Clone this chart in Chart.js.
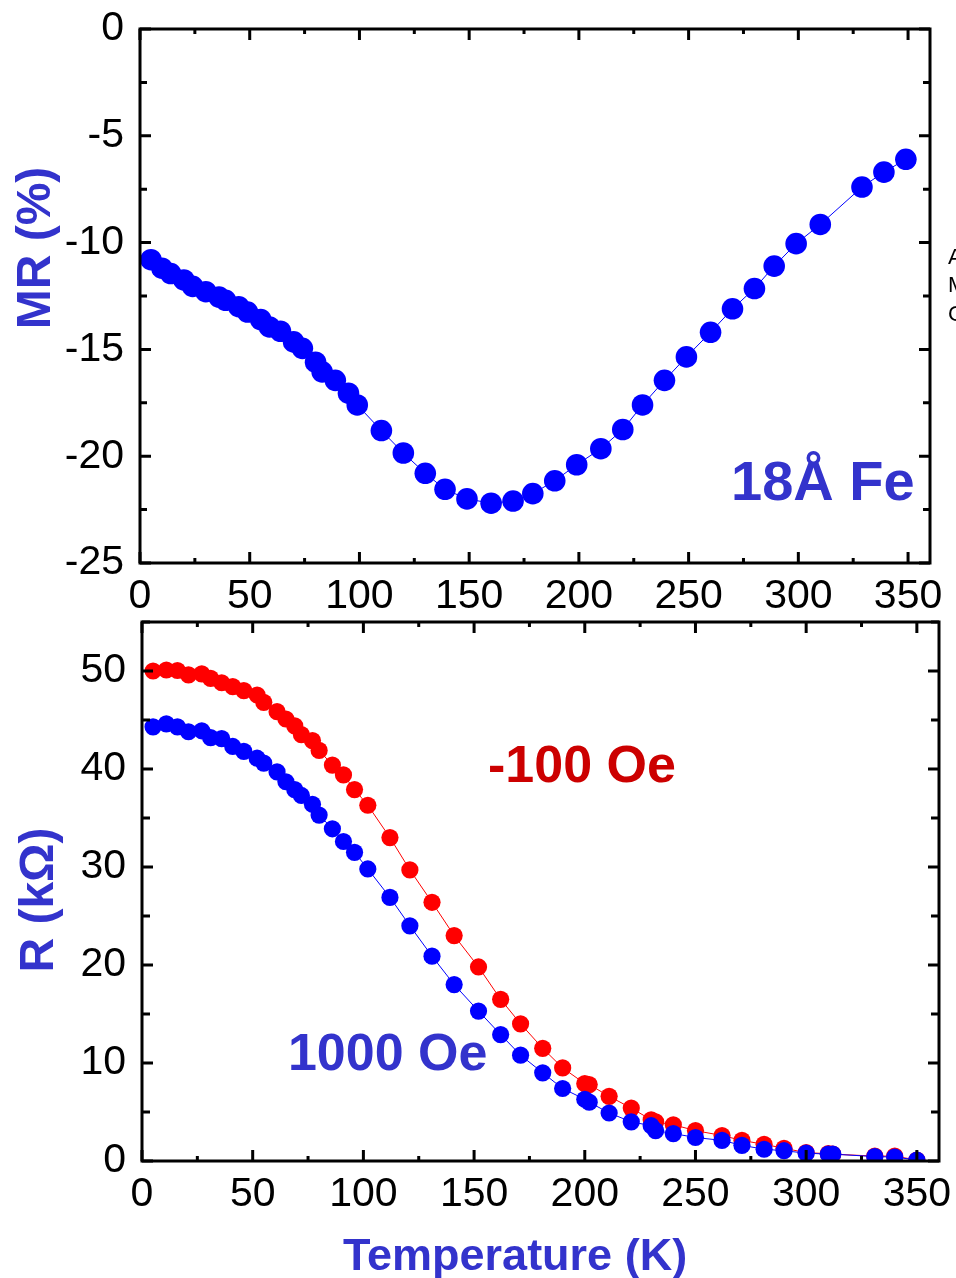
<!DOCTYPE html>
<html>
<head>
<meta charset="utf-8">
<script src="https://cdn.jsdelivr.net/npm/chart.js@4.4.1/dist/chart.umd.min.js"></script>
<style>
html,body{margin:0;padding:0;background:#fff;}
#wrap{position:relative;width:956px;height:1278px;overflow:hidden;background:#fff;}
#topChart{position:absolute;left:0;top:0;}
#botChart{position:absolute;left:0;top:610px;}
</style>
</head>
<body>
<div id="wrap">
  <canvas id="topChart" width="956" height="625"></canvas>
  <canvas id="botChart" width="956" height="668"></canvas>
</div>
<script>
// top panel: magnetoresistance vs temperature
var tempMR=[5,10,14,20,24,30,36,39,45,49,55,59,64,70,74,80,83,89,95,99,110,120,130,139,149,160,170,179,189,199,210,220,229,239,249,260,270,280,289,299,310,329,339,349];
var mrValues=[-10.8,-11.2,-11.45,-11.75,-12.05,-12.3,-12.55,-12.7,-13.0,-13.25,-13.6,-13.95,-14.15,-14.65,-14.95,-15.6,-16.05,-16.45,-17.05,-17.6,-18.8,-19.85,-20.8,-21.55,-22.0,-22.2,-22.1,-21.75,-21.15,-20.4,-19.65,-18.75,-17.6,-16.45,-15.35,-14.2,-13.1,-12.15,-11.1,-10.05,-9.15,-7.4,-6.7,-6.1];

// bottom panel: resistance vs temperature at two fields
var tempR=[5,11,16,21,27,31,36,41,46,52,55,61,65,69,72,77,80,86,91,96,102,112,121,131,141,152,162,171,181,190,200,202,211,221,230,232,240,250,262,271,281,290,300,310,312,331,340,350];
var rMinus100=[50.0,50.1,50.05,49.6,49.7,49.25,48.8,48.4,48.0,47.55,46.8,45.85,45.1,44.4,43.5,42.9,41.9,40.4,39.4,37.9,36.3,33.0,29.7,26.4,23.0,19.8,16.5,14.0,11.5,9.5,7.9,7.8,6.6,5.4,4.2,4.0,3.7,3.1,2.6,2.1,1.7,1.3,0.85,0.75,0.7,0.5,0.5,0.1];
var r1000=[44.3,44.6,44.3,43.8,43.9,43.2,43.1,42.3,41.8,41.1,40.6,39.7,38.7,37.9,37.3,36.4,35.3,33.9,32.6,31.5,29.8,26.9,24.0,20.9,18.0,15.3,12.9,10.8,9.0,7.4,6.3,6.0,4.9,4.0,3.6,3.1,2.8,2.4,2.1,1.6,1.2,1.05,0.8,0.7,0.7,0.45,0.4,0.1];

var tempTicks=[0,50,100,150,200,250,300,350];
var mrTicks=[-25,-20,-15,-10,-5,0];
var rTicks=[0,10,20,30,40,50];

var FONT="'Liberation Sans', Arial, Helvetica, sans-serif";
var TITLE_BLUE='#3333cc', LABEL_RED='#cc0000';

function pairs(xs,ys){return xs.map(function(x,i){return {x:x,y:ys[i]};});}

// boxed frame with inward major/minor ticks on all four sides
function framePlugin(cfg){
  return {id:'frame',afterDatasetsDraw:function(chart){
    var ctx=chart.ctx,a=chart.chartArea,xs=chart.scales.x,ys=chart.scales.y,v,p,len,major;
    ctx.save();
    ctx.strokeStyle='#000';ctx.lineWidth=3;ctx.lineCap='butt';
    ctx.beginPath();
    for(v=xs.min;v<=xs.max+1e-9;v+=cfg.xMinor){
      major=Math.abs(v/cfg.xMajor-Math.round(v/cfg.xMajor))<1e-6;
      len=major?cfg.majorLen:cfg.xMinorLen;
      p=xs.getPixelForValue(v);
      ctx.moveTo(p,a.bottom);ctx.lineTo(p,a.bottom-len);
      ctx.moveTo(p,a.top);ctx.lineTo(p,a.top+len);
    }
    for(v=ys.min;v<=ys.max+1e-9;v+=cfg.yMinor){
      major=Math.abs(v/cfg.yMajor-Math.round(v/cfg.yMajor))<1e-6;
      len=major?cfg.majorLen:cfg.yMinorLen;
      p=ys.getPixelForValue(v);
      ctx.moveTo(a.left,p);ctx.lineTo(a.left+len,p);
      ctx.moveTo(a.right,p);ctx.lineTo(a.right-len,p);
    }
    ctx.stroke();
    ctx.strokeRect(a.left,a.top,a.right-a.left,a.bottom-a.top);
    ctx.restore();
  }};
}

// free text: `at` in data units, `px` in canvas pixels
function notesPlugin(items){
  return {id:'notes',afterDraw:function(chart){
    var ctx=chart.ctx;
    items.forEach(function(it){
      var x=it.at?chart.scales.x.getPixelForValue(it.at[0]):it.px[0];
      var y=it.at?chart.scales.y.getPixelForValue(it.at[1]):it.px[1];
      ctx.save();
      ctx.translate(x,y);
      if(it.rotate)ctx.rotate(it.rotate);
      ctx.font=it.font;ctx.fillStyle=it.color;
      ctx.textAlign=it.align||'left';ctx.textBaseline='alphabetic';
      ctx.fillText(it.text,0,0);
      ctx.restore();
    });
  }};
}

function tickList(list){return function(s){s.ticks=list.map(function(v){return {value:v};});};}

function xScale(height){
  return {type:'linear',min:0,max:360,
    afterBuildTicks:tickList(tempTicks),
    afterFit:function(s){s.height=height;s.paddingLeft=0;s.paddingRight=0;},
    grid:{display:false},border:{display:false},
    ticks:{color:'#000',font:{family:FONT,size:41},padding:1,maxRotation:0,autoSkip:false,
      callback:function(v){return String(v);}}};
}
function yScale(min,max,list,width){
  return {type:'linear',min:min,max:max,
    afterBuildTicks:tickList(list),
    afterFit:function(s){s.width=width;s.paddingTop=0;s.paddingBottom=0;},
    grid:{display:false},border:{display:false},
    ticks:{color:'#000',font:{family:FONT,size:41},padding:8,autoSkip:false,
      callback:function(v){return String(v);}}};
}

function series(xs,ys,color,r){
  return {data:pairs(xs,ys),borderColor:color,borderWidth:1,backgroundColor:color,
    pointRadius:r,pointHoverRadius:r,pointBackgroundColor:color,pointBorderWidth:0,
    fill:false,tension:0,clip:0};
}

var common={responsive:false,animation:false,events:[],
  plugins:{legend:{display:false},tooltip:{enabled:false}}};

new Chart(document.getElementById('topChart'),{
  type:'line',
  data:{datasets:[series(tempMR,mrValues,'#0000ff',10.8)]},
  options:Object.assign({},common,{
    layout:{padding:{top:29,right:26,bottom:0,left:0}},
    scales:{x:xScale(62),y:yScale(-25,0,mrTicks,140)}
  }),
  plugins:[
    framePlugin({xMinor:25,xMajor:50,yMinor:2.5,yMajor:5,majorLen:11,xMinorLen:5,yMinorLen:7}),
    notesPlugin([
      {text:'18\u00C5 Fe',at:[353,-22.05],align:'right',font:'bold 56px '+FONT,color:TITLE_BLUE},
      {text:'MR (%)',px:[50,248],rotate:-Math.PI/2,align:'center',font:'bold 48px '+FONT,color:TITLE_BLUE},
      {text:'Au',px:[948,264],font:'22px '+FONT,color:'#000'},
      {text:'MgO',px:[948,292],font:'22px '+FONT,color:'#000'},
      {text:'GaAs',px:[948,321],font:'22px '+FONT,color:'#000'}
    ])
  ]
});

new Chart(document.getElementById('botChart'),{
  type:'line',
  data:{datasets:[
    series(tempR,r1000,'#0000ff',8.6),
    series(tempR,rMinus100,'#ff0000',8.6)
  ]},
  options:Object.assign({},common,{
    layout:{padding:{top:12,right:17,bottom:0,left:0}},
    scales:{x:xScale(117),y:yScale(0,55,rTicks,142)}
  }),
  plugins:[
    framePlugin({xMinor:25,xMajor:50,yMinor:5,yMajor:10,majorLen:11,xMinorLen:5,yMinorLen:8}),
    notesPlugin([
      {text:'-100 Oe',at:[156.3,38.7],font:'bold 52px '+FONT,color:LABEL_RED},
      {text:'1000 Oe',at:[65.9,9.29],font:'bold 52px '+FONT,color:TITLE_BLUE},
      {text:'R (k\u03A9)',px:[53,290],rotate:-Math.PI/2,align:'center',font:'bold 48px '+FONT,color:TITLE_BLUE},
      {text:'Temperature (K)',px:[515,660],align:'center',font:'bold 45px '+FONT,color:TITLE_BLUE}
    ])
  ]
});
</script>
</body>
</html>
